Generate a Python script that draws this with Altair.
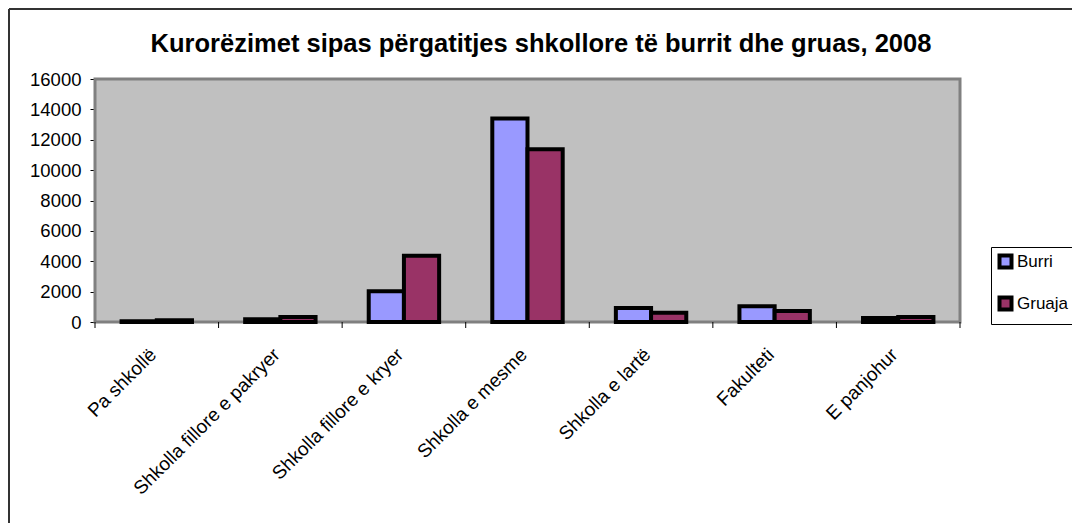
import altair as alt
import pandas as pd

categories = ["Pa shkollë", "Shkolla fillore e pakryer", "Shkolla fillore e kryer",
              "Shkolla e mesme", "Shkolla e lartë", "Fakulteti", "E panjohur"]
burri = [50, 180, 2020, 13400, 920, 1030, 260]
gruaja = [110, 330, 4370, 11370, 610, 720, 330]
series = ["Burri", "Gruaja"]
colors = ["#9999FF", "#993366"]
title_text = "Kurorëzimet sipas përgatitjes shkollore të burrit dhe gruas, 2008"

rows = []
for c, b, g in zip(categories, burri, gruaja):
    rows.append({"cat": c, "ser": "Burri", "val": b})
    rows.append({"cat": c, "ser": "Gruaja", "val": g})
df = pd.DataFrame(rows)
cat_df = pd.DataFrame({"cat": categories})

W, H = 865, 243
FONT = "Liberation Sans"

xscale = alt.Scale(domain=categories, paddingInner=0, paddingOuter=0)

border = alt.Chart(cat_df.head(1)).mark_rect(
    fill="#C0C0C0", stroke="#808080", strokeWidth=3
).encode(x=alt.value(0), x2=alt.value(W), y=alt.value(0), y2=alt.value(H))

bars = alt.Chart(df).mark_bar(stroke="black", strokeWidth=4).encode(
    x=alt.X("cat:N", scale=xscale, sort=categories,
            axis=alt.Axis(title=None, labelAngle=-45, labelAlign="right", labelBaseline="top",
                          labelFontSize=19, labelFont=FONT, labelColor="black",
                          labelPadding=23, labelOffset=-10, ticks=False, domainColor="black",
                          domainWidth=1, labelLimit=400)),
    xOffset=alt.XOffset("ser:N", scale=alt.Scale(domain=series, paddingInner=0, paddingOuter=0.755)),
    y=alt.Y("val:Q", scale=alt.Scale(domain=[0, 16000], nice=False),
            axis=alt.Axis(title=None, values=list(range(0, 16001, 2000)), format="d", grid=True,
                          gridColor="black", gridWidth=1, domainColor="black",
                          tickColor="black", tickSize=5, labelFontSize=18.5, labelFont=FONT,
                          labelColor="black", labelPadding=9)),
    color=alt.Color("ser:N", scale=alt.Scale(domain=series, range=colors),
                    legend=alt.Legend(title=None, orient="none", legendX=896, legendY=168,
                                      strokeColor="black", fillColor="white", padding=6,
                                      symbolType="square", symbolSize=144, symbolStrokeWidth=4,
                                      symbolStrokeColor="black", labelFontSize=17, labelFont=FONT,
                                      labelColor="black", rowPadding=13, labelOffset=3)),
)

xticks_a = alt.Chart(cat_df).mark_rule(color="black", strokeWidth=1).encode(
    x=alt.X("cat:N", scale=xscale, sort=categories, bandPosition=0),
    y=alt.value(H), y2=alt.value(H + 6))
xtick_end = alt.Chart(cat_df.head(1)).mark_rule(color="black", strokeWidth=1).encode(
    x=alt.value(W), y=alt.value(H), y2=alt.value(H + 6))

frame_top = alt.Chart(cat_df.head(1)).mark_rule(color="#333333", strokeWidth=2).encode(
    x=alt.value(-86), x2=alt.value(1000), y=alt.value(-70))
frame_left = alt.Chart(cat_df.head(1)).mark_rule(color="#333333", strokeWidth=2).encode(
    x=alt.value(-86), y=alt.value(-70), y2=alt.value(460))

title = alt.Chart(pd.DataFrame({"t": [title_text]})).mark_text(
    font=FONT, fontSize=25.5, fontWeight="bold", color="black", align="center", baseline="alphabetic"
).encode(text="t:N", x=alt.value(446), y=alt.value(-27))

chart = alt.layer(border, bars, xticks_a, xtick_end, frame_top, frame_left, title).properties(
    width=W, height=H,
    autosize=alt.AutoSizeParams(type="none"),
    padding={"left": 87, "top": 71, "right": 112, "bottom": 201},
).configure_view(stroke=None).configure(background="white")

chart.save("out.html", embed_options={"renderer": "svg", "actions": False})
